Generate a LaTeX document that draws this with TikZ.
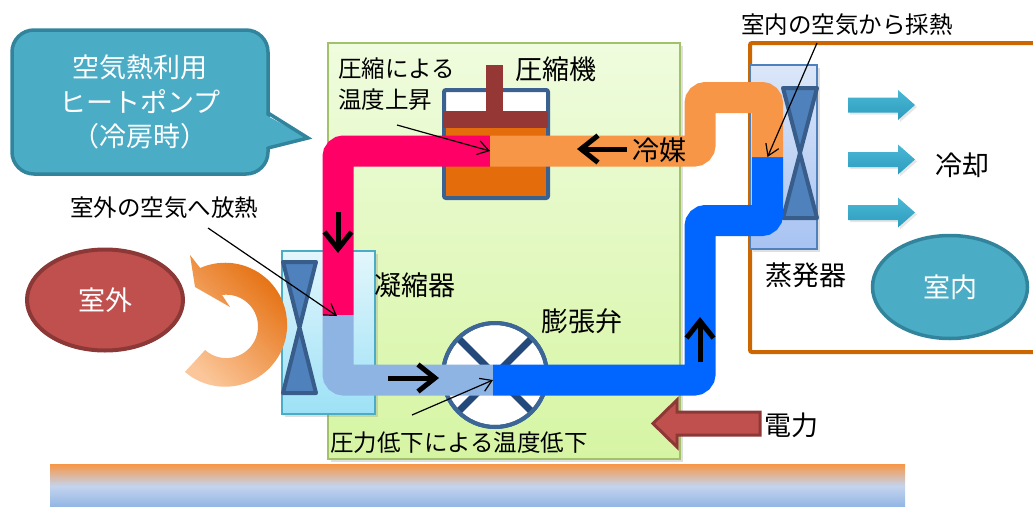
\documentclass[tikz,border=0pt]{standalone}
\usepackage{fontspec}
\newfontfamily\jp{Noto Sans CJK JP}
\usetikzlibrary{arrows.meta,shadows,shapes.geometric}

\definecolor{gtop}{HTML}{EFFCDE}
\definecolor{gbot}{HTML}{D6F5A3}
\definecolor{gbord}{HTML}{A2C16A}
\definecolor{callfill}{HTML}{4BACC6}
\definecolor{callbord}{HTML}{31849B}
\definecolor{compbord}{HTML}{3B6190}
\definecolor{comporange}{HTML}{E46C0A}
\definecolor{piston}{HTML}{953735}
\definecolor{hotpipe}{HTML}{FF0066}
\definecolor{warmpipe}{HTML}{F79646}
\definecolor{coldpipe}{HTML}{0066FF}
\definecolor{coolpipe}{HTML}{8DB4E2}
\definecolor{condtop}{HTML}{E3F6FC}
\definecolor{condbot}{HTML}{9DE1F6}
\definecolor{condbord}{HTML}{4BACC6}
\definecolor{evtop}{HTML}{DBE6F8}
\definecolor{evbot}{HTML}{A8C3F2}
\definecolor{evbord}{HTML}{4F81BD}
\definecolor{tiefill}{HTML}{4F81BD}
\definecolor{tiebord}{HTML}{385D8A}
\definecolor{roomline}{HTML}{CC6600}
\definecolor{valvebord}{HTML}{3C6696}
\definecolor{valvecross}{HTML}{23497A}
\definecolor{redfill}{HTML}{C0504D}
\definecolor{redbord}{HTML}{8C3836}
\definecolor{cyantop}{HTML}{4AB8D4}
\definecolor{cyanbot}{HTML}{2C9CBF}
\definecolor{arcdark}{HTML}{E46C0A}
\definecolor{arclight}{HTML}{FBC699}
\definecolor{groundtop}{HTML}{F79646}
\definecolor{groundmid}{HTML}{C4D4EE}
\definecolor{groundbot}{HTML}{93B6E4}

\begin{document}
\begin{tikzpicture}[x=1pt,y=-1pt,
  pipe/.style={line width=31pt, rounded corners=6pt},
  flow/.style={line width=5pt, black,
    -{Straight Barb[length=17pt,width=27pt,line width=5pt]}},
  note/.style={line width=1.2pt, black, -{Straight Barb[length=11pt,width=14pt]}},
  lbl/.style={font=\jp\fontsize{23.5}{28}\selectfont, inner sep=0pt, anchor=west},
  partname/.style={font=\jp\fontsize{27}{32}\selectfont, inner sep=0pt, anchor=west},
  softshadow/.style={drop shadow={opacity=0.25, shadow xshift=3pt, shadow yshift=-3pt}},
  tie/.style={fill=tiefill, draw=tiebord, line width=4pt, line join=round},
  windarrow/.style={top color=cyantop, bottom color=cyanbot, draw=none,
    drop shadow={opacity=0.2, shadow xshift=2pt, shadow yshift=-2pt}}
]
\useasboundingbox (0,0) rectangle (1033,506);

% ground strip
\shade[top color=groundtop, bottom color=groundmid] (50,464) rectangle (905,486);
\shade[top color=groundmid, bottom color=groundbot] (50,486) rectangle (905,506);

% outdoor unit casing
\node[softshadow, draw=gbord, line width=1.5pt, top color=gtop, bottom color=gbot,
      minimum width=352pt, minimum height=416pt, inner sep=0pt, outer sep=0pt]
      (unit) at (504,251) {};

% callout
\node[draw=callbord, fill=callfill, line width=3.5pt, rounded corners=22pt,
      minimum width=256pt, minimum height=144pt, outer sep=0pt] (title) at (140,102) {};
\fill[callfill] (262,113) -- (308,138) -- (262,148) -- cycle;
\draw[callbord, line width=3.5pt, line cap=round] (268,113) -- (308,138) -- (268,148);
\node[font=\jp\fontsize{27}{34.5}\selectfont, text=white, align=center, inner sep=0pt]
      at (title.center) {空気熱利用\\ヒートポンプ\\（冷房時）};

% indoor room outline
\draw[roomline, line width=4pt, rounded corners=2pt]
      (1040,43) -- (750,43) -- (750,352) -- (1040,352);

% compressor
\node[draw=compbord, fill=white, line width=4pt, rounded corners=2pt,
      minimum width=104pt, minimum height=108pt, outer sep=0pt] (comp) at (496,144) {};
\fill[comporange] (446,128) rectangle (546,196);
\fill[piston] (443,111) rectangle (548,128);
\fill[piston] (486,65) rectangle (503,111);

% condenser (outdoor heat exchanger)
\node[softshadow, draw=condbord, line width=2pt, top color=condtop, bottom color=condbot,
      minimum width=93pt, minimum height=163pt, outer sep=0pt] (cond) at (328.5,332.5) {};
\draw[tie] (283,262) -- (316,262) -- (299.5,327.5) -- (316,393) -- (283,393)
      -- (299.5,327.5) -- cycle;

% evaporator (indoor heat exchanger)
\node[softshadow, draw=evbord, line width=1.5pt, top color=evtop, bottom color=evbot,
      minimum width=67pt, minimum height=184pt, outer sep=0pt] (evap) at (783.5,157) {};
\draw[tie] (783,88) -- (817,88) -- (800,153) -- (817,218) -- (783,218)
      -- (800,153) -- cycle;

% expansion valve
\node[circle, draw=valvebord, fill=white, line width=4pt, minimum size=104pt,
      outer sep=0pt] (valve) at (495,375) {};
\draw[valvecross, line width=7pt] (valve.45) -- (valve.225);
\draw[valvecross, line width=7pt] (valve.135) -- (valve.-45);
\draw[valvebord, line width=4pt] (valve.center) circle[radius=52];

% refrigerant circuit
\coordinate (discharge) at (490,151);
\coordinate (condin) at (338,315);
\coordinate (valvein) at (493,380);
\coordinate (evapin) at (767.5,157);
\draw[pipe, hotpipe] (discharge) -- (338,151) -- (condin);
\draw[pipe, coolpipe] (condin) -- (338,380) -- (valvein);
\draw[pipe, coldpipe] (valvein) -- (700,380) -- (700,220.5) -- (767.5,220.5) -- (evapin);
\draw[pipe, warmpipe] (evapin) -- (767.5,97.5) -- (700,97.5) -- (700,151) -- (discharge);

% flow direction
\draw[flow] (338,212) -- (338,253);
\draw[flow] (388,378) -- (439,378);
\draw[flow] (700,362) -- (700,317);
\draw[flow] (627,149) -- (577,149);

% outdoor / indoor
\node[ellipse, draw=redbord, fill=redfill, line width=4pt, minimum width=156pt,
      minimum height=101pt, text=white, font=\jp\fontsize{27}{32}\selectfont]
      (outside) at (105,300) {室外};
\node[ellipse, draw=callbord, fill=callfill, line width=3.5pt, minimum width=155pt,
      minimum height=103pt, text=white, font=\jp\fontsize{27}{32}\selectfont]
      (inside) at (950,287) {室内};

% heat released outdoors
\shade[top color=arcdark, bottom color=arclight, shading angle=-45]
  (184.95,371.94) arc[start angle=130.4, end angle=-113.7, radius=62]
  -- (190,255) -- (195,287) -- (230,307) -- (222.0,295.0)
  arc[start angle=-97.8, end angle=132, radius=31.7] -- cycle;

% cooled air indoors
\foreach \yc in {105,159.5,212.5}{
  \path[windarrow] (848,\yc-7.5) -- (898,\yc-7.5) -- (898,\yc-15) -- (915,\yc)
    -- (898,\yc+15) -- (898,\yc+7.5) -- (848,\yc+7.5) -- cycle;
}

% power input
\draw[fill=redfill, draw=redbord, line width=3pt, line join=miter]
  (760,412) -- (677,412) -- (677,400) -- (653,423.5) -- (677,447) -- (677,435)
  -- (760,435) -- cycle;

% labels
\node[lbl] (risetxt1) at (338,69) {圧縮による};
\node[lbl] (risetxt2) at (338,100) {温度上昇};
\node[partname] (comptxt) at (515,69) {圧縮機};
\node[partname] (medtxt) at (632,150) {冷媒};
\node[partname] (condtxt) at (374,285) {凝縮器};
\node[partname] (valvetxt) at (541,321) {膨張弁};
\node[partname] (evaptxt) at (765,275) {蒸発器};
\node[partname] (cooltxt) at (935,165) {冷却};
\node[partname] (powertxt) at (764,425) {電力};
\node[lbl] (outtxt) at (70,208) {室外の空気へ放熱};
\node[lbl] (intxt) at (741,25) {室内の空気から採熱};
\node[lbl] (droptxt) at (330,443) {圧力低下による温度低下};

% annotation leaders
\coordinate (riseA) at (397,125);
\coordinate (outA) at (208,228);
\coordinate (inA) at (817,43);
\coordinate (dropA) at (412,415);
\draw[note] (riseA) -- (discharge);
\draw[note] (outA) -- (337,316);
\draw[note] (inA) -- (evapin);
\draw[note] (dropA) -- (valvein);

\end{tikzpicture}
\end{document}
